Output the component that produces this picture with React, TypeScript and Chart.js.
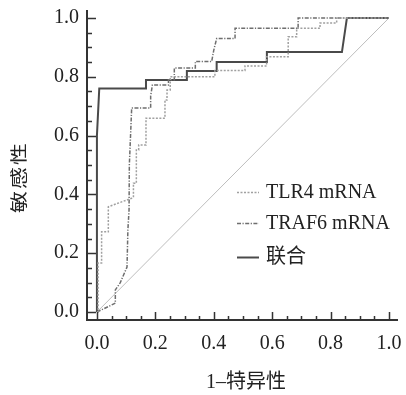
import React, { useEffect, useRef } from "react";
import { Chart, registerables } from "chart.js";

Chart.register(...registerables);

// ---- data ----
const tlr4Fpr = [0, 0.004, 0.004, 0.016, 0.016, 0.039, 0.039, 0.119, 0.125, 0.125, 0.135, 0.135, 0.143, 0.143, 0.168, 0.168, 0.233, 0.233, 0.24, 0.24, 0.251, 0.251, 0.404, 0.404, 0.507, 0.507, 0.581, 0.581, 0.655, 0.655, 0.684, 0.684, 0.764, 0.764, 0.821, 0.821, 1.0];
const tlr4Sens = [0, 0, 0.167, 0.167, 0.273, 0.273, 0.358, 0.387, 0.39, 0.438, 0.438, 0.551, 0.551, 0.568, 0.568, 0.659, 0.659, 0.721, 0.721, 0.755, 0.755, 0.8, 0.8, 0.821, 0.821, 0.837, 0.837, 0.868, 0.868, 0.936, 0.936, 0.965, 0.965, 0.983, 0.983, 1.0, 1.0];

const traf6Fpr = [0, 0.063, 0.063, 0.08, 0.103, 0.106, 0.11, 0.111, 0.119, 0.184, 0.184, 0.19, 0.245, 0.245, 0.265, 0.265, 0.337, 0.337, 0.393, 0.4, 0.41, 0.473, 0.473, 0.689, 0.689, 1.0];
const traf6Sens = [0, 0.03, 0.075, 0.1, 0.153, 0.279, 0.347, 0.5, 0.694, 0.694, 0.735, 0.772, 0.772, 0.79, 0.79, 0.83, 0.83, 0.852, 0.852, 0.89, 0.93, 0.93, 0.965, 0.965, 1.0, 1.0];

const combFpr = [0, 0, 0.008, 0.168, 0.168, 0.308, 0.308, 0.41, 0.41, 0.582, 0.582, 0.839, 0.856, 1.0];
const combSens = [0, 0.6, 0.76, 0.76, 0.789, 0.789, 0.82, 0.82, 0.85, 0.85, 0.884, 0.884, 1.0, 1.0];

const refFpr = [0, 1];
const refSens = [0, 1];

const tickValues = [0, 0.2, 0.4, 0.6, 0.8, 1.0];
const minorStep = 0.05;
const seriesLabels = ["TLR4 mRNA", "TRAF6 mRNA", "联合"];
const xTitle = "1–特异性";
const yTitle = "敏感性";

const toPoints = (xs: number[], ys: number[]) => xs.map((x, i) => ({ x, y: ys[i] }));

const SERIF = '"Liberation Serif", "Noto Sans CJK SC", serif';
const CJK = '"Noto Sans CJK SC", "Liberation Serif", sans-serif';

const decorPlugin = {
  id: "decor",
  afterDraw(chart: any) {
    const { ctx, chartArea: ca } = chart;
    const xs = chart.scales.x;
    const ys = chart.scales.y;
    ctx.save();
    // axis lines
    ctx.strokeStyle = "#333";
    ctx.lineWidth = 2;
    ctx.beginPath();
    ctx.moveTo(ca.left, ca.top);
    ctx.lineTo(ca.left, ca.bottom);
    ctx.lineTo(ca.right, ca.bottom);
    ctx.stroke();
    // inward ticks
    ctx.lineWidth = 1.5;
    ctx.beginPath();
    const n = Math.round(1 / minorStep);
    for (let i = 0; i <= n; i++) {
      const v = i * minorStep;
      const major = i % 4 === 0;
      const py = Math.round(ys.getPixelForValue(v)) + 0.5;
      ctx.moveTo(ca.left, py);
      ctx.lineTo(ca.left + (major ? 9 : 5), py);
      const px = Math.round(xs.getPixelForValue(v)) + 0.5;
      ctx.moveTo(px, ca.bottom);
      ctx.lineTo(px, ca.bottom - (major ? 8 : 4));
    }
    ctx.stroke();

    // axis titles
    ctx.fillStyle = "#222";
    ctx.font = `20px ${SERIF}`;
    ctx.textAlign = "center";
    ctx.textBaseline = "middle";
    ctx.fillText(xTitle, xs.getPixelForValue(0.5) + 3, 383);
    ctx.save();
    ctx.translate(18, 178);
    ctx.rotate(-Math.PI / 2);
    ctx.scale(1, 0.8);
    ctx.font = `22px ${CJK}`;
    (ctx as any).letterSpacing = "2px";
    ctx.fillText(yTitle, 1, 0);
    ctx.restore();

    // legend inside the plot
    const legendY = [192, 223, 257];
    chart.data.datasets.slice(0, 3).forEach((ds: any, i: number) => {
      const y = legendY[i];
      ctx.save();
      ctx.strokeStyle = ds.borderColor;
      ctx.lineWidth = ds.borderWidth;
      ctx.setLineDash(ds.borderDash || []);
      ctx.beginPath();
      ctx.moveTo(237, y + 0.5);
      ctx.lineTo(259, y + 0.5);
      ctx.stroke();
      ctx.restore();
      ctx.fillStyle = "#222";
      ctx.textAlign = "left";
      ctx.textBaseline = "middle";
      ctx.font = `20px ${SERIF}`;
      ctx.fillText(ds.label, 266, y + 1);
    });
    ctx.restore();
  },
};

export default function App() {
  const ref = useRef<HTMLCanvasElement | null>(null);
  useEffect(() => {
    if (!ref.current) return;
    const chart = new Chart(ref.current, {
      type: "line",
      data: {
        datasets: [
          {
            label: seriesLabels[0],
            data: toPoints(tlr4Fpr, tlr4Sens),
            borderColor: "#a0a0a0",
            borderWidth: 1.5,
            borderDash: [2, 1.5],
            pointRadius: 0,
            tension: 0,
          },
          {
            label: seriesLabels[1],
            data: toPoints(traf6Fpr, traf6Sens),
            borderColor: "#6e6e6e",
            borderWidth: 1.5,
            borderDash: [4, 1.5, 1.2, 1.5],
            pointRadius: 0,
            tension: 0,
          },
          {
            label: seriesLabels[2],
            data: toPoints(combFpr, combSens),
            borderColor: "#4a4a4a",
            borderWidth: 2,
            pointRadius: 0,
            tension: 0,
          },
          {
            label: "ref",
            data: toPoints(refFpr, refSens),
            borderColor: "#bdbdbd",
            borderWidth: 1,
            pointRadius: 0,
            tension: 0,
          },
        ],
      },
      options: {
        responsive: false,
        animation: false,
        layout: { padding: { top: 10, right: 8, bottom: 0, left: 0 } },
        plugins: { legend: { display: false }, tooltip: { enabled: false } },
        scales: {
          x: {
            type: "linear",
            min: -0.034,
            max: 1.031,
            grid: { display: false, drawTicks: false },
            border: { display: false },
            afterBuildTicks: (s: any) => {
              s.ticks = tickValues.map((v) => ({ value: v }));
            },
            afterFit: (s: any) => {
              s.height = 75;
              s.paddingLeft = 0;
              s.paddingRight = 0;
            },
            ticks: {
              padding: 12,
              color: "#222",
              font: { family: SERIF, size: 20 },
              maxRotation: 0,
              autoSkip: false,
              callback: (v: any) => Number(v).toFixed(1),
            },
          },
          y: {
            type: "linear",
            min: -0.0272,
            max: 1.0272,
            grid: { display: false, drawTicks: false },
            border: { display: false },
            afterBuildTicks: (s: any) => {
              s.ticks = tickValues.map((v) => ({ value: v }));
            },
            afterFit: (s: any) => {
              s.width = 87;
              s.paddingTop = 0;
              s.paddingBottom = 0;
            },
            ticks: {
              padding: 8,
              color: "#222",
              font: { family: SERIF, size: 20 },
              autoSkip: false,
              callback: (v: any) => Number(v).toFixed(1),
            },
          },
        },
      },
      plugins: [decorPlugin],
    });
    return () => chart.destroy();
  }, []);
  return (
    <div style={{ position: "fixed", left: 0, top: 0, width: 406, height: 395, background: "#fff" }}>
      <canvas ref={ref} width={406} height={395} />
    </div>
  );
}
